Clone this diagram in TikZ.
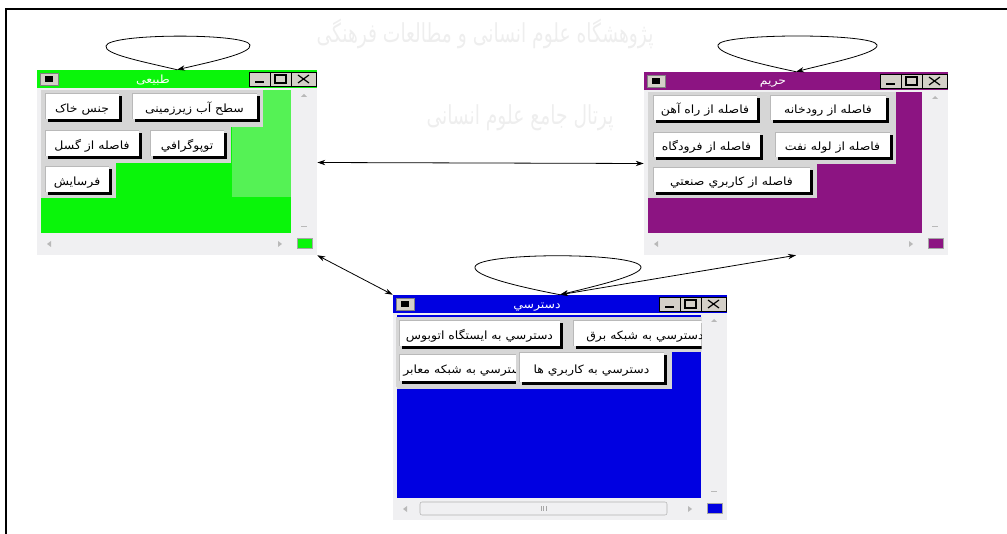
\documentclass[tikz,border=0pt]{standalone}
\usepackage{fontspec}
\setmainfont{DejaVu Sans}
\newfontfamily\arabicfont[Script=Arabic]{DejaVu Sans}
\TeXXeTstate=1
\usetikzlibrary{arrows.meta,calc,fit}

\definecolor{wgreen}{RGB}{10,245,10}
\definecolor{wgreenlt}{RGB}{85,242,85}
\definecolor{wpurple}{RGB}{140,20,130}
\definecolor{wblue}{RGB}{0,0,225}
\definecolor{panel}{RGB}{214,214,214}
\definecolor{sbar}{RGB}{240,240,242}
\definecolor{chrome}{RGB}{212,208,200}

\tikzset{
  btntext/.style={font=\arabicfont\fontsize{8.5}{10}\selectfont, xscale=1.1, inner sep=0pt, text=black, anchor=base},
  titletext/.style={font=\arabicfont\fontsize{8.5}{10}\selectfont, xscale=1.1, inner sep=0pt, text=white, anchor=base},
  chromebtn/.style={fill=chrome, draw=black, line width=0.5pt},
  arr/.style={-{Stealth[length=6pt,width=4pt]}, line width=0.6pt},
  darr/.style={{Stealth[length=6pt,width=4pt]}-{Stealth[length=6pt,width=4pt]}, line width=0.6pt},
  wmark/.style={font=\arabicfont\fontsize{14}{16}\selectfont, yscale=1.4, text=gray!13, inner sep=0pt}
}

% window: x1,y1,x2,y2,colour,name
\newcommand\fawin[6]{%
  \fill[sbar] (#1,#2) rectangle (#3,#4);
  \fill[#5] (#1,#2) rectangle (#3,#2+18);
  \fill[#5] (#1+4,#2+20) rectangle (#3-26,#4-22);
  \filldraw[fill=chrome,draw=gray] (#1+3,#2+3) rectangle (#1+21,#2+15);
  \fill[black] (#1+8,#2+6) rectangle (#1+16,#2+12);
  \filldraw[chromebtn] (#3-68,#2+2) rectangle (#3-47,#2+16);
  \draw[line width=1.2pt] (#3-62,#2+12) -- (#3-53,#2+12);
  \filldraw[chromebtn] (#3-47,#2+2) rectangle (#3-26,#2+16);
  \draw[line width=0.8pt] (#3-42,#2+5) rectangle (#3-31,#2+13);
  \filldraw[chromebtn] (#3-26,#2+2) rectangle (#3-1,#2+16);
  \draw[line width=0.9pt] (#3-19,#2+5) -- (#3-8,#2+13) (#3-19,#2+13) -- (#3-8,#2+5);
  \fill[gray!55] (#3-13,#2+24) -- (#3-16,#2+27) -- (#3-10,#2+27) -- cycle;
  \fill[gray!55] (#3-16,#4-29) rectangle (#3-10,#4-28);
  \fill[gray!55] (#1+10,#4-11) -- (#1+14,#4-14) -- (#1+14,#4-8) -- cycle;
  \fill[gray!55] (#3-35,#4-11) -- (#3-39,#4-14) -- (#3-39,#4-8) -- cycle;
  \filldraw[fill=#5,draw=gray!70] (#3-20,#4-17) rectangle (#3-5,#4-7);
  \node[fit={(#1,#2)(#3,#4)}, inner sep=0pt] (#6) {};
}

% button shape: x1,y1,x2,y2
\newcommand\fashape[4]{%
  \fill[panel] (#1-3,#2-3) rectangle (#3+3,#4+3);
  \fill[black] (#1+3,#2+3) rectangle (#3,#4);
  \fill[white] (#1,#2) rectangle (#3-3,#4-3);
  \draw[gray!55, line width=0.5pt] (#1,#4-3) -- (#1,#2) -- (#3-3,#2);
}
% button: name,x1,y1,x2,y2,text
\newcommand\fabtn[6]{%
  \fashape{#2}{#3}{#4}{#5}
  \node[btntext] (#1) at ({(#2+#4-3)/2},{(#3+#5-3)/2+6.5}) {#6};
}

\begin{document}
\begin{tikzpicture}[x=0.75pt,y=-0.75pt]
\useasboundingbox (0,0) rectangle (1007,534);

% watermark
\node[wmark] (wm1) at (485,34) {\beginR پژوهشگاه علوم انسانی و مطالعات فرهنگی\endR};
\node[wmark] (wm2) at (520,118) {\beginR پرتال جامع علوم انسانی\endR};

% frame
\draw[line width=1.1pt] (6,534) -- (6,9) -- (1007,9);

% ---------- green window ----------
\fawin{37}{70}{317}{255}{wgreen}{green}
\fill[wgreenlt] (232,90) rectangle (291,197);
\fill[panel] (41,90) rectangle (263,127);
\fill[panel] (41,127) rectangle (231,163);
\fill[panel] (41,163) rectangle (116,198);
\node[titletext] (gtitle) at (153,84) {\beginR طبیعی\endR};
\fabtn{g1}{45}{93}{122}{122}{\beginR جنس خاک\endR}
\fabtn{g2}{132}{93}{260}{122}{\beginR سطح آب زیرزمینی\endR}
\fabtn{g3}{45}{130}{142}{159}{\beginR فاصله از گسل\endR}
\fabtn{g4}{150}{130}{227}{159}{\beginR توپوگرافي\endR}
\fabtn{g5}{45}{166}{112}{195}{\beginR فرسایش\endR}

% ---------- purple window ----------
\fawin{644}{72}{948}{255}{wpurple}{purple}
\fill[panel] (648,92) rectangle (896,164);
\fill[panel] (648,164) rectangle (817,198);
\node[titletext] (ptitle) at (773,85) {\beginR حریم\endR};
\fabtn{p1}{653}{95}{760}{123}{\beginR فاصله از راه آهن\endR}
\fabtn{p2}{770}{95}{889}{123}{\beginR فاصله از رودخانه\endR}
\fabtn{p3}{653}{132}{763}{160}{\beginR فاصله از فرودگاه\endR}
\fabtn{p4}{775}{132}{893}{160}{\beginR فاصله از لوله نفت\endR}
\fabtn{p5}{653}{167}{813}{195}{\beginR فاصله از كاربري صنعتي\endR}

% ---------- blue window ----------
\fawin{393}{295}{727}{520}{wblue}{blue}
\fill[panel] (397,317) rectangle (701,352);
\fill[panel] (397,352) rectangle (672,389);
\node[titletext] (btitle) at (537,309) {\beginR دسترسي\endR};
\fabtn{b1}{399}{320}{563}{349}{\beginR دسترسي به ايستگاه اتوبوس\endR}
\begin{scope}
  \clip (569,316) rectangle (701.5,353);
  \fashape{573}{320}{712}{349}
  \node[btntext, anchor=base west] (b2) at (586,339.5) {\beginR دسترسي به شبكه برق\endR};
\end{scope}
\begin{scope}
  \clip (395,350) rectangle (518,388);
  \fashape{399}{354}{521}{384}
  \node[btntext, anchor=base west] (b3) at (403,374) {\beginR دسترسي به شبكه معابر\endR};
\end{scope}
\fabtn{b4}{519}{352}{667}{385}{\beginR دسترسي به كاربري ها\endR}
% scrollbar thumb
\draw[gray!60, fill=sbar, rounded corners=1.5pt] (420,502) rectangle (667,515);
\draw[gray!70, line width=0.4pt] (541,506) -- (541,511) (543.5,506) -- (543.5,511) (546,506) -- (546,511);

% ---------- connectors ----------
\draw[arr] (green.north) .. controls (140,61) and (104,54) .. (106,46)
   .. controls (108,33) and (248,33) .. (250,45)
   .. controls (252,53) and (215,61) .. (green.north);
\draw[arr] (purple.north) .. controls (760,64) and (716,54) .. (718,45)
   .. controls (720,33) and (875,33) .. (877,45)
   .. controls (879,53) and (830,63) .. (purple.north);
\draw[arr] (blue.north) .. controls (520,287) and (473,276) .. (475,267)
   .. controls (477,252) and (638,252) .. (641,267)
   .. controls (642,275) and (600,285) .. (blue.north);

\draw[darr] (green.east) -- (purple.west);
\draw[darr] (green.south east) -- (blue.north west);
\draw[darr] (blue.north) -- (purple.south);
\end{tikzpicture}
\end{document}
